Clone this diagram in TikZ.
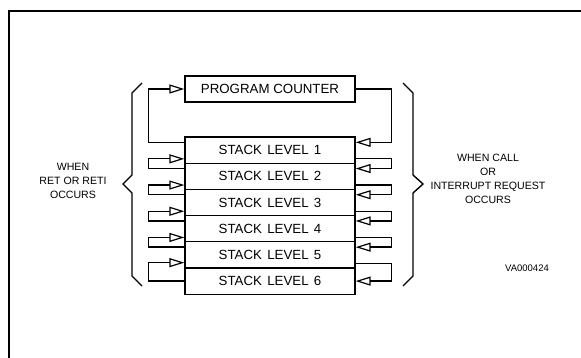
\documentclass[tikz,border=0pt]{standalone}
\usepackage{fontspec}
\setmainfont{Liberation Sans}
\usetikzlibrary{arrows.meta,calc}
\begin{document}
\begin{tikzpicture}[x=1pt,y=-1pt,
  box/.style={draw,line width=1.3pt,minimum width=170pt,minimum height=26.2pt,inner sep=0pt,
    font=\fontsize{13.3}{15}\selectfont},
  conn/.style={line width=1.3pt,-{Triangle[open,length=15pt,width=9pt,line width=1.2pt]}},
  brace/.style={line width=1.4pt},
  side/.style={align=center,font=\fontsize{10.6}{14}\selectfont,inner sep=0pt}]
\useasboundingbox (0,0) rectangle (581,358);
\draw[line width=2.4pt] (9,358) -- (9,11) -- (581,11);
\node[box] (pc) at (270,89) {PROGRAM COUNTER};
\foreach \i in {1,...,6}{
  \node[box] (s\i) at (270,{150.1+26.2*(\i-1)}) {STACK\hspace{1.5pt} LEVEL\hspace{1.5pt} \i};
}
% left: RET
\draw[conn] ($(s1.north west)+(0,6)$) -| ($(pc.west)+(-36,0)$) -- (pc.west);
\foreach \k/\n in {1/2,2/3,3/4,4/5}{
  \draw[conn] ($(s\n.north west)+(0,6)$) -- ++(-36,0) |- ($(s\k.south west)+(0,-5)$);
}
\draw[conn] (s6.west) -- ++(-36,0) |- ($(s5.south west)+(0,-6)$);
% right: CALL
\draw[conn] (pc.east) -- ++(36,0) |- ($(s1.north east)+(0,6)$);
\foreach \k/\n in {1/2,2/3,3/4,4/5}{
  \draw[conn] ($(s\k.south east)+(0,-5)$) -- ++(36,0) |- ($(s\n.north east)+(0,6)$);
}
\draw[conn] ($(s5.south east)+(0,-5)$) -- ++(36,0) |- (s6.east);
% braces
\draw[brace] (142,83) -- (132,93) -- (132,175) -- (123,184) -- (132,193) -- (132,276) -- (142,286);
\draw[brace] (403,83) -- (413,93) -- (413,175) -- (423,184) -- (413,193) -- (413,276) -- (403,286);
% texts
\node[side] (ret) at (73,181) {WHEN\\RET OR RETI\\OCCURS};
\node[side] (call) at (488,178.5) {WHEN CALL\\OR\\INTERRUPT REQUEST\\OCCURS};
\node[font=\fontsize{9.5}{11}\selectfont,inner sep=0pt] (va) at (527,268) {VA000424};
\end{tikzpicture}
\end{document}
